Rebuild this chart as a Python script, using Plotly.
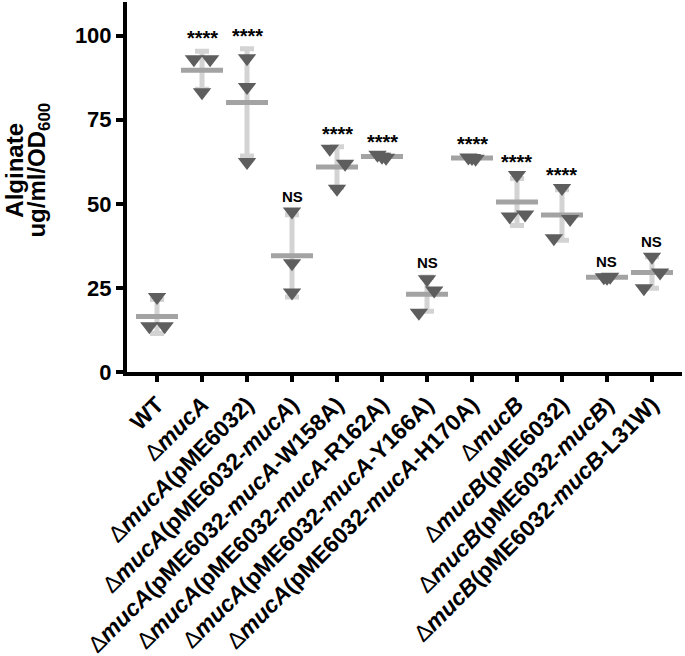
import numpy as np
import plotly.graph_objects as go

# ---------------- data ----------------
strains = [
    "<b>WT</b>",
    "Δ<b><i>mucA</i></b>",
    "Δ<b><i>mucA</i>(pME6032)</b>",
    "Δ<b><i>mucA</i>(pME6032-<i>mucA</i>)</b>",
    "Δ<b><i>mucA</i>(pME6032-<i>mucA</i>-W158A)</b>",
    "Δ<b><i>mucA</i>(pME6032-<i>mucA</i>-R162A)</b>",
    "Δ<b><i>mucA</i>(pME6032-<i>mucA</i>-Y166A)</b>",
    "Δ<b><i>mucA</i>(pME6032-<i>mucA</i>-H170A)</b>",
    "Δ<b><i>mucB</i></b>",
    "Δ<b><i>mucB</i>(pME6032)</b>",
    "Δ<b><i>mucB</i>(pME6032-<i>mucB</i>)</b>",
    "Δ<b><i>mucB</i>(pME6032-<i>mucB</i>-L31W)</b>",
]
rep_1 = [22.3, 93.0, 93.3, 47.7, 66.4, 64.6, 27.6, 63.8, 58.6, 54.7, 28.2, 34.3]
rep_2 = [13.6, 93.0, 84.7, 32.3, 61.9, 63.7, 24.2, 63.6, 46.2, 45.5, 28.0, 29.6]
rep_3 = [13.6, 83.2, 62.4, 23.6, 54.5, 64.0, 17.6, 63.4, 46.8, 39.8, 28.3, 24.9]
significance = ["", "****", "****", "NS", "****", "****", "NS", "****", "****", "****", "NS", "NS"]
y_ticks = [0, 25, 50, 75, 100]

# swarm spreading of overlapping replicate symbols (fraction of category width)
swarm_1 = [0.0, -0.18, 0.0, 0.0, -0.16, -0.10, 0.0, -0.08, 0.0, 0.0, -0.07, 0.0]
swarm_2 = [-0.17, 0.18, 0.0, 0.0, 0.18, 0.09, 0.16, 0.0, -0.16, 0.18, 0.0, 0.18]
swarm_3 = [0.17, 0.0, 0.0, 0.0, 0.0, 0.0, -0.18, 0.08, 0.18, -0.18, 0.07, -0.18]

# ---------------- derived ----------------
vals = np.array([rep_1, rep_2, rep_3])
means = vals.mean(axis=0)
sds = vals.std(axis=0, ddof=1)
idx = np.arange(len(strains))

FONT = "Arial, 'Liberation Sans', sans-serif"
fig = go.Figure()

# SD error bars
fig.add_trace(go.Scatter(
    x=idx, y=means, mode="markers",
    marker=dict(size=1, color="rgba(0,0,0,0)"),
    error_y=dict(type="data", array=sds, visible=True, color="#d3d3d3", thickness=5, width=7),
    hoverinfo="skip", showlegend=False,
))
# mean lines
fig.add_trace(go.Scatter(
    x=idx, y=means, mode="markers",
    marker=dict(symbol="line-ew", size=30, line=dict(width=5, color="#a3a3a3")),
    showlegend=False,
))
# replicate points
for rep, sw in ((rep_1, swarm_1), (rep_2, swarm_2), (rep_3, swarm_3)):
    fig.add_trace(go.Scatter(
        x=idx + np.array(sw), y=rep, mode="markers",
        marker=dict(symbol="triangle-down", size=16, color="#5e5e5e", line=dict(width=0)),
        cliponaxis=False, showlegend=False,
    ))

# significance labels
annotations = []
for i, lab in enumerate(significance):
    if not lab:
        continue
    top = max(vals[:, i].max(), means[i] + sds[i])
    is_star = lab.startswith("*")
    annotations.append(dict(
        x=i, y=top + (3.9 if is_star else 4.4), xref="x", yref="y",
        text=f"<b>{lab}</b>", showarrow=False, xanchor="center", yanchor="middle",
        font=dict(family=FONT, size=20 if is_star else 15, color="black"),
    ))

# y-axis title (two lines)
annotations.append(dict(
    x=-0.203, y=0.545, xref="paper", yref="paper", text="<b>Alginate</b>",
    showarrow=False, textangle=-90, xanchor="center", yanchor="middle",
    font=dict(family=FONT, size=24, color="black"),
))
annotations.append(dict(
    x=-0.160, y=0.545, xref="paper", yref="paper", text="<b>ug/ml/OD<sub>600</sub></b>",
    showarrow=False, textangle=-90, xanchor="center", yanchor="middle",
    font=dict(family=FONT, size=24, color="black"),
))

fig.update_layout(
    width=685, height=656,
    margin=dict(l=127, r=3, t=2, b=284, autoexpand=False),
    paper_bgcolor="white", plot_bgcolor="white",
    annotations=annotations,
    font=dict(family=FONT, color="black"),
)
fig.update_xaxes(
    range=[-0.667, 11.667], tickmode="array", tickvals=list(idx), ticktext=strains,
    tickangle=-45, tickfont=dict(family=FONT, size=23, color="black"),
    showline=True, linewidth=4, linecolor="black",
    ticks="outside", ticklen=6, tickwidth=4, tickcolor="black",
    showgrid=False, zeroline=False, automargin=False,
)
fig.update_yaxes(
    range=[0, 110], tickmode="array", tickvals=y_ticks,
    tickfont=dict(family=FONT, size=22, color="black", weight="bold"),
    showline=True, linewidth=4, linecolor="black",
    ticks="outside", ticklen=7, tickwidth=4, tickcolor="black",
    showgrid=False, zeroline=False, automargin=False,
)

fig.write_html(
    "out.html",
    config={"displayModeBar": False},
    post_script="document.body.style.margin='0';document.body.style.overflow='hidden';",
)
